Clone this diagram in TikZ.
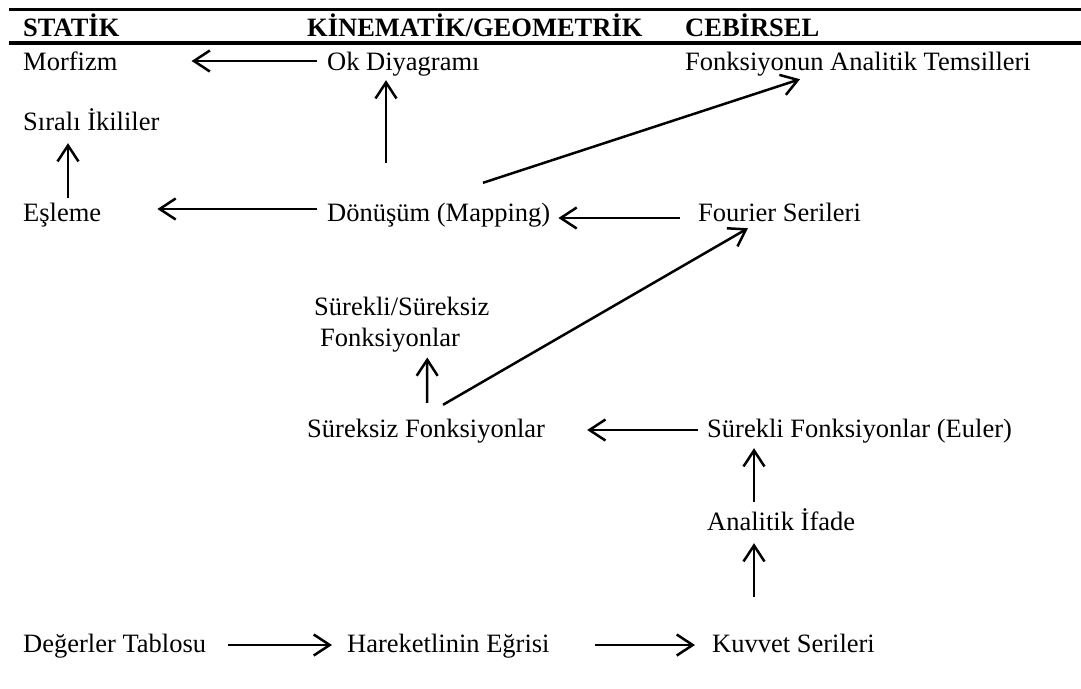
\documentclass[tikz,border=0pt]{standalone}
\usepackage{fontspec}
\setmainfont{Liberation Serif}
\usetikzlibrary{arrows.meta}

\tikzset{
  lbl/.style={anchor=base west, inner sep=0pt, text height=21pt, text depth=5pt},
  hdr/.style={lbl, font=\fontsize{26.5}{31}\selectfont\bfseries},
  arr/.style={-{Straight Barb[length=16pt,width=21pt]}, line width=2.5pt},
  rule/.style={line width=3.2pt}
}

\begin{document}
\begin{tikzpicture}[x=1pt, y=-1pt, font=\fontsize{26.5}{31}\selectfont]
\useasboundingbox (0,0) rectangle (1081,688);
\foreach \y in {9.5,43} \draw[rule] (9,\y) -- (1081,\y);
\node[hdr] (statik) at (23,36) {STATİK};
\node[hdr] (kinem) at (307,36) {KİNEMATİK/GEOMETRİK};
\node[hdr] (cebir) at (685,36) {CEBİRSEL};

\node[lbl] (morf) at (23,70) {Morfizm};
\node[lbl] (okd) at (327,70) {Ok Diyagramı};
\node[lbl] (temsil) at (685,70) {Fonksiyonun Analitik Temsilleri};
\node[lbl] (sirali) at (23,130) {Sıralı İkililer};
\node[lbl] (esleme) at (23,221) {Eşleme};
\node[lbl] (donusum) at (327,221) {Dönüşüm (Mapping)};
\node[lbl] (fourier) at (698,221) {Fourier Serileri};
\node[anchor=north west, inner sep=0pt, align=left] (surs) at (314,297) {Sürekli/Süreksiz\\\hspace*{6pt}Fonksiyonlar};
\node[lbl] (sureksiz) at (307,437) {Süreksiz Fonksiyonlar};
\node[lbl] (surekli) at (707,437) {Sürekli Fonksiyonlar (Euler)};
\node[lbl] (ifade) at (707,530) {Analitik İfade};
\node[lbl] (tablo) at (23,652) {Değerler Tablosu};
\node[lbl] (egri) at (347,652) {Hareketlinin Eğrisi};
\node[lbl] (kuvvet) at (712,652) {Kuvvet Serileri};

% yatay oklar
\draw[arr, shorten <=10pt, shorten >=74pt] ([yshift=1pt]okd.west) -- ([yshift=1pt]morf.east);
\draw[arr, shorten <=10pt, shorten >=56pt] ([yshift=4pt]donusum.west) -- ([yshift=4pt]esleme.east);
\draw[arr, shorten <=18pt, shorten >=8pt] ([yshift=-5pt]fourier.west) -- ([yshift=-5pt]donusum.east);
\draw[arr, shorten <=9pt, shorten >=42pt] ([yshift=-1pt]surekli.west) -- ([yshift=-1pt]sureksiz.east);
\draw[arr, shorten <=22pt, shorten >=15pt] ([yshift=-1pt]tablo.east) -- ([yshift=-1pt]egri.west);
\draw[arr, shorten <=45pt, shorten >=17pt] ([yshift=-1pt]egri.east) -- ([yshift=-1pt]kuvvet.west);

% dikey oklar
\draw[arr, shorten <=2pt, shorten >=8pt] ([xshift=45pt]esleme.north west) -- ([xshift=45pt]sirali.south west);
\draw[arr, shorten <=37pt, shorten >=5pt] ([xshift=59pt]donusum.north west) -- ([xshift=59pt]okd.south west);
\draw[arr, shorten <=13pt, shorten >=5pt] ([xshift=120pt]sureksiz.north west) -- ([xshift=25.5pt]surs.south);
\draw[arr, shorten <=7pt, shorten >=6pt] ([xshift=47pt]ifade.north west) -- ([xshift=47pt]surekli.south west);
\draw[arr, shorten <=34pt, shorten >=8pt] ([xshift=42pt]kuvvet.north west) -- ([xshift=47pt]ifade.south west);

% capraz oklar
\draw[arr] ([shift={(156pt,17pt)}]donusum.north west) -- ([shift={(115pt,-4pt)}]temsil.south west);
\draw[arr] ([shift={(136pt,11pt)}]sureksiz.north west) -- ([shift={(50pt,-2pt)}]fourier.south west);
\end{tikzpicture}
\end{document}
